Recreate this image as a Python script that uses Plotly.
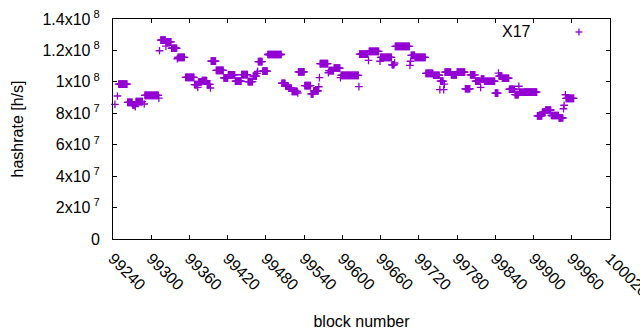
import plotly.graph_objects as go

# Hashrate runs: block range (inclusive) and value in millions of h/s
run_start = [99243, 99247, 99249, 99263, 99271, 99275, 99276, 99289, 99290, 99312,
             99313, 99315, 99323, 99324, 99332, 99341, 99342, 99354, 99368, 99373,
             99374, 99380, 99388, 99393, 99394, 99402, 99414, 99421, 99432, 99442,
             99452, 99460, 99466, 99467, 99468, 99475, 99483, 99505, 99511, 99516,
             99521, 99530, 99531, 99541, 99551, 99555, 99563, 99564, 99565, 99578,
             99579, 99587, 99597, 99598, 99626, 99627, 99641, 99642, 99659, 99660,
             99678, 99682, 99683, 99706, 99707, 99708, 99714, 99731, 99743, 99753,
             99754, 99759, 99760, 99761, 99771, 99780, 99793, 99801, 99809, 99817,
             99818, 99823, 99840, 99845, 99846, 99851, 99862, 99871, 99877, 99878,
             99886, 99906, 99914, 99919, 99928, 99940, 99947, 99948, 99950, 99951]
run_end = [99243, 99247, 99262, 99270, 99274, 99275, 99286, 99289, 99311, 99312,
           99313, 99322, 99323, 99331, 99340, 99341, 99352, 99367, 99372, 99373,
           99379, 99387, 99392, 99393, 99401, 99413, 99420, 99431, 99441, 99451,
           99459, 99465, 99466, 99467, 99474, 99482, 99504, 99510, 99515, 99520,
           99529, 99530, 99540, 99550, 99554, 99562, 99563, 99564, 99577, 99578,
           99586, 99596, 99597, 99625, 99626, 99640, 99641, 99657, 99659, 99677,
           99681, 99682, 99705, 99706, 99707, 99713, 99730, 99742, 99752, 99753,
           99758, 99759, 99760, 99770, 99779, 99792, 99800, 99808, 99816, 99817,
           99822, 99839, 99844, 99845, 99850, 99861, 99870, 99876, 99877, 99885,
           99905, 99913, 99918, 99927, 99939, 99946, 99947, 99948, 99950, 99963]
run_value_mhs = [85.7, 91.0, 98.5, 87.0, 85.3, 84.2, 87.4, 85.9, 91.4, 89.7,
                 119.8, 126.5, 122.7, 125.5, 121.4, 114.7, 115.6, 102.9, 98.2, 96.5,
                 99.9, 100.8, 98.4, 96.1, 113.2, 107.3, 102.5, 104.4, 100.5, 104.6,
                 100.2, 103.7, 105.4, 106.7, 112.9, 106.8, 117.4, 99.1, 97.2, 96.1,
                 94.0, 92.9, 106.3, 97.6, 92.3, 94.3, 96.9, 102.7, 111.6, 105.8,
                 107.2, 108.8, 102.7, 104.1, 97.0, 117.7, 113.7, 119.4, 113.1, 115.6,
                 110.9, 112.0, 122.6, 110.5, 113.1, 116.9, 115.6, 105.4, 104.2, 95.0,
                 100.5, 95.0, 98.6, 106.2, 104.4, 106.2, 95.6, 104.4, 100.5, 96.5,
                 101.8, 100.4, 92.8, 105.6, 103.7, 102.3, 95.3, 91.9, 97.2, 93.4,
                 93.5, 78.3, 80.8, 82.1, 78.6, 77.0, 82.9, 85.1, 91.8, 89.5]

series_name = "X17"
y_tick_vals = [0, 2e7, 4e7, 6e7, 8e7, 1e8, 1.2e8, 1.4e8]
y_tick_text = ["0", "2x10<sup> 7</sup>", "4x10<sup> 7</sup>", "6x10<sup> 7</sup>",
               "8x10<sup> 7</sup>", "1x10<sup> 8</sup>", "1.2x10<sup> 8</sup>",
               "1.4x10<sup> 8</sup>"]
x_tick_vals = list(range(99240, 100021, 60))
x_tick_text = [str(v) for v in x_tick_vals]

# expand the run-length encoded readings into one point per block
blocks, hashrate = [], []
for s, e, v in zip(run_start, run_end, run_value_mhs):
    for b in range(s, e + 1):
        blocks.append(b)
        hashrate.append(v * 1e6)

PURPLE = "#9400D3"
FONT = "Liberation Sans, Arial, sans-serif"
FS = 16

fig = go.Figure()
fig.add_trace(go.Scatter(
    x=blocks, y=hashrate, mode="markers", name=series_name,
    marker=dict(symbol="cross-thin-open", size=5.5,
                line=dict(color=PURPLE, width=1.3), color=PURPLE),
    showlegend=False, cliponaxis=False,
))

axis_common = dict(showline=True, linecolor="black", linewidth=1, mirror="ticks",
                   ticks="inside", ticklen=4, tickcolor="black", tickwidth=1,
                   showgrid=False, zeroline=False, automargin=False,
                   ticklabeloverflow="allow",
                   tickfont=dict(family=FONT, size=FS, color="black"))

fig.update_xaxes(range=[99240, 100020], tickvals=x_tick_vals, ticktext=x_tick_text,
                 tickangle=45, ticklabelstandoff=3,
                 title=dict(text="block number", font=dict(family=FONT, size=FS, color="black"),
                            standoff=18),
                 **axis_common)
fig.update_yaxes(range=[0, 1.4e8], tickvals=y_tick_vals, ticktext=y_tick_text,
                 ticklabelstandoff=9,
                 title=dict(text="hashrate [h/s]", font=dict(family=FONT, size=FS, color="black"),
                            standoff=14),
                 **axis_common)

# gnuplot-style key: text, then sample symbol to its right
fig.add_annotation(xref="x domain", yref="y domain", x=0.845, y=0.941,
                   xanchor="right", yanchor="middle", text=series_name, showarrow=False,
                   font=dict(family=FONT, size=FS, color="black"))
kx, ky, hw, hh = 0.9376, 0.941, 3.5 / 497, 3.5 / 220
fig.add_shape(type="line", xref="x domain", yref="y domain",
              x0=kx - hw, x1=kx + hw, y0=ky, y1=ky, line=dict(color=PURPLE, width=1.3))
fig.add_shape(type="line", xref="x domain", yref="y domain",
              x0=kx, x1=kx, y0=ky - hh, y1=ky + hh, line=dict(color=PURPLE, width=1.3))

fig.update_layout(width=640, height=330, margin=dict(l=113, r=30, t=19, b=91),
                  plot_bgcolor="white", paper_bgcolor="white",
                  font=dict(family=FONT, size=FS, color="black"))

# remove the default 8px page margin so the figure sits at the window's corner
fig.write_html("out.html", config={"displayModeBar": False},
               post_script="document.body.style.margin='0px';")
